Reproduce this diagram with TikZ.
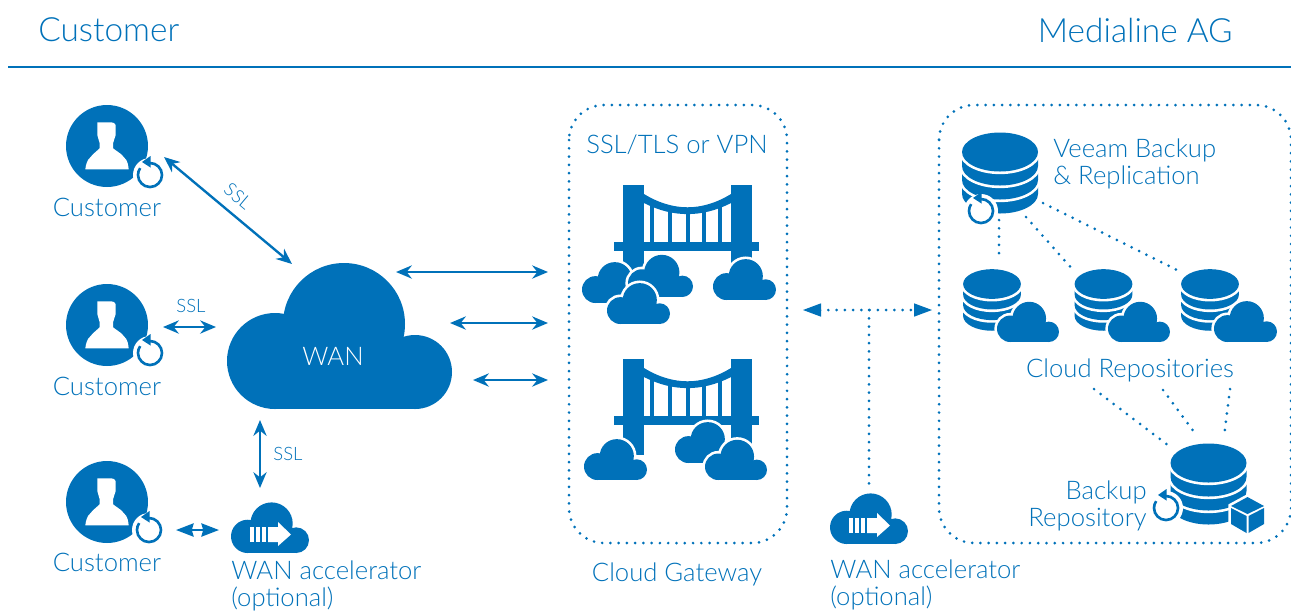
\documentclass[tikz,border=0pt]{standalone}
\usepackage{fontspec}
\setmainfont{Lato Light}
\usepackage{xcolor}
\usepackage{tikz}
\usetikzlibrary{arrows.meta, positioning, calc}
\definecolor{brandblue}{HTML}{0071B9}
\tikzset{
	biglabel/.style={text=brandblue, inner sep=0pt, font=\fontsize{19}{19}\selectfont},
	toplabel/.style={text=brandblue, inner sep=0pt, align=left, font=\fontsize{14.6}{15.4}\selectfont},
	smalllabel/.style={text=brandblue, inner sep=0pt, font=\fontsize{10.5}{11}\selectfont},
	usercircle/.style={circle, fill=brandblue, inner sep=0pt, minimum size=1.64cm},
	link/.style={brandblue, line width=1.35pt, {Stealth[length=9pt,width=7.5pt]}-{Stealth[length=9pt,width=7.5pt]}},
	shortlink/.style={brandblue, line width=1.35pt, {Stealth[length=10pt,width=7.5pt,inset=1pt]}-{Stealth[length=10pt,width=7.5pt,inset=1pt]}},
	dotline/.style={brandblue, line width=1.7pt, line cap=round, dash pattern=on 0pt off 4.7pt},
	gapped/.style={fill=brandblue, preaction={draw=white, line width=3pt}},
}
\newcommand{\mycloud}[3]{
	\begin{scope}[shift={(#1,-#2)}, scale=#3/225]
		\draw[white, line width=3pt] (48,48) circle (48) (117,85) circle (61) (188,37) circle (37) (48,0) rectangle (188,40);
		\foreach \cx/\cy/\cr in {48/48/48, 117/85/61, 188/37/37} {
			\fill[brandblue] (\cx,\cy) circle (\cr);
		}
		\fill[brandblue] (48,0) rectangle (188,40);
	\end{scope}
}
\newcommand{\myaccel}[2]{
	\mycloud{#1}{#2}{78}
	\begin{scope}[shift={(#1,-#2)}]
		\foreach \bx in {19,25,31} {
			\fill[white] (\bx,11) rectangle ++(3.6,15);
		}
		\fill[white] (37,11) -- (47,11) -- (47,7) -- (60,18.5) -- (47,31) -- (47,26) -- (37,26) -- cycle;
	\end{scope}
}
\newcommand{\myrotate}[2]{
	\begin{scope}[shift={(#1,-#2)}]
		\fill[white] (0,0) circle (17);
		\draw[brandblue, line width=1.5pt] (0,12) arc[start angle=90, end angle=-215, radius=12];
		\fill[brandblue] (-8,13) -- (0.5,19) -- (0.5,7.5) -- cycle;
	\end{scope}
}
\newcommand{\myperson}[1]{
	\begin{scope}[shift={(#1)}]
		\fill[white] (-21.7,-23.3) .. controls (-21,-18) and (-20,-16) .. (-19,-14) -- (-14,-8.3) -- (-7.3,-2.3) -- (-7.3,2.7)
			-- (-9.7,11) -- (-9.7,23.7) -- (4,23.7) .. controls (6,23.5) and (8,23) .. (8.7,21) -- (8.7,11) -- (6,2.7) -- (6,-2.3)
			-- (14.3,-8.3) -- (19.3,-14) .. controls (20.5,-16) and (21,-18) .. (21.7,-23.3) -- cycle;
	\end{scope}
}
\newcommand{\mydisk}[3]{
	\begin{scope}[shift={(#1,-#2)}, scale=#3]
		\foreach \k in {3,2,1} {
			\path[gapped] (-38,{-14*\k+7}) -- (-38,{-14*\k}) arc[start angle=180, end angle=360, x radius=38, y radius=19.5]
				-- (38,{-14*\k+7}) arc[start angle=0, end angle=180, x radius=38, y radius=19.5] -- cycle;
		}
		\path[gapped] (0,0) ellipse [x radius=38, y radius=19.5];
	\end{scope}
}
\newcommand{\mycube}[2]{
	\begin{scope}[shift={(#1,-#2)}]
		\fill[white, draw=white, line width=3pt] (0,18) -- (16.5,9) -- (16.5,-9) -- (0,-18) -- (-16.5,-9) -- (-16.5,9) -- cycle;
		\fill[brandblue] (0,18) -- (16.5,9) -- (0,1) -- (-16.5,9) -- cycle;
		\fill[brandblue] (-16.5,7) -- (-1,-1) -- (-1,-18) -- (-16.5,-9) -- cycle;
		\fill[brandblue] (16.5,7) -- (1,-1) -- (1,-18) -- (16.5,-9) -- cycle;
	\end{scope}
}
\newcommand{\mybridge}[2]{
	\begin{scope}[shift={(#1,-#2)}]
		\fill[brandblue] (0,0) rectangle (21,-96);
		\fill[brandblue] (108,0) rectangle (129,-96);
		\fill[brandblue] (-9,-57) rectangle (136,-66);
		\fill[brandblue] (21,-9) .. controls (50,-26.7) and (79,-26.7) .. (108,-9) -- (108,-18)
			.. controls (79,-32.8) and (50,-32.8) .. (21,-18) -- cycle;
		\foreach \hx/\hy in {27/-16, 45/-22, 63/-25, 79/-24, 95/-16} {
			\fill[brandblue] (\hx,\hy) rectangle ++(4.3,{-58-\hy});
		}
	\end{scope}
}
\begin{document}
\begin{tikzpicture}[x=0.02cm, y=0.02cm]
	\useasboundingbox (0,0) rectangle (1291,-610);

	% header
	\node[biglabel, anchor=west] (custhead) at (38,-30) {Customer};
	\node[biglabel, anchor=east] (medhead) at (1233,-30) {Medialine AG};
	\coordinate (rulea) at (8,-67);
	\coordinate (ruleb) at (1291,-67);
	\draw[brandblue, line width=1.6pt] (rulea) -- (ruleb);

	% dotted boxes
	\coordinate (gatea) at (569,-105);
	\coordinate (gateb) at (787,-543);
	\coordinate (mediaa) at (939,-105);
	\coordinate (mediab) at (1291,-543);
	\draw[dotline, rounded corners=0.7cm] (gatea) rectangle (gateb);
	\draw[dotline, rounded corners=0.7cm] (mediaa) rectangle (mediab);

	% customers
	\node[usercircle] (cust1) at (107,-146) {};
	\node[usercircle] (cust2) at (107,-325) {};
	\node[usercircle] (cust3) at (107,-502) {};
	\myperson{cust1}
	\myperson{cust2}
	\myperson{cust3}
	\myrotate{150}{175}
	\myrotate{150}{353}
	\myrotate{149}{530}
	\node[toplabel] (custa) at (107,-207) {Customer};
	\node[toplabel] (custb) at (107,-386) {Customer};
	\node[toplabel] (custc) at (107,-562) {Customer};

	% wan
	\mycloud{227}{409}{225}
	\node[toplabel, text=white] (wan) at (333,-356) {WAN};
	\myaccel{231}{553}
	\myaccel{830}{544}
	\node[toplabel, anchor=north west] (accela) at (231,-560) {WAN accelerator\\(optional)};
	\node[toplabel, anchor=north west] (accelb) at (830,-559) {WAN accelerator\\(optional)};

	% gateway
	\node[toplabel] (ssltls) at (677,-145) {SSL/TLS or VPN};
	\node[toplabel] (gateway) at (677,-574) {Cloud Gateway};
	\mybridge{623}{185}
	\mycloud{582}{303}{63}
	\mycloud{628}{297}{65}
	\mycloud{607}{324}{63}
	\mycloud{713}{300}{63}
	\mybridge{623}{359}
	\mycloud{584}{480}{63}
	\mycloud{675}{463}{63}
	\mycloud{705}{480}{62}

	% medialine side
	\mydisk{1000}{152}{1}
	\myrotate{981}{211}
	\node[toplabel, anchor=north west] (veeam) at (1053,-138) {Veeam Backup\\\& Replication};
	\mydisk{992}{284}{0.76}
	\mydisk{1103.5}{284}{0.76}
	\mydisk{1210}{284}{0.76}
	\mycloud{997}{342}{62}
	\mycloud{1108}{342}{62}
	\mycloud{1214}{342}{63}
	\node[toplabel] (cloudrepo) at (1130,-370) {Cloud Repositories};
	\mydisk{1208.5}{463}{1}
	\myrotate{1166}{508}
	\mycube{1247.5}{515}
	\node[toplabel, anchor=north east, align=right] (backrepo) at (1147,-480) {Backup\\Repository};

	% links
	\coordinate (l1a) at (164,-157);
	\coordinate (l1b) at (292,-264);
	\coordinate (l2a) at (163,-327);
	\coordinate (l2b) at (216,-327);
	\coordinate (l3a) at (396,-272);
	\coordinate (l3b) at (548,-272);
	\coordinate (l4a) at (450,-323);
	\coordinate (l4b) at (548,-323);
	\coordinate (l5a) at (473,-380);
	\coordinate (l5b) at (548,-380);
	\coordinate (l6a) at (260,-420);
	\coordinate (l6b) at (260,-488);
	\coordinate (l7a) at (176,-530);
	\coordinate (l7b) at (219,-530);
	\draw[link] (l1a) -- (l1b);
	\draw[link] (l2a) -- (l2b);
	\draw[link] (l3a) -- (l3b);
	\draw[link] (l4a) -- (l4b);
	\draw[link] (l5a) -- (l5b);
	\draw[link] (l6a) -- (l6b);
	\draw[shortlink] (l7a) -- (l7b);
	\node[smalllabel, rotate=-40] (ssla) at (238,-196) {SSL};
	\node[smalllabel] (sslb) at (191,-306) {SSL};
	\node[smalllabel] (sslc) at (288,-454) {SSL};

	% dotted links
	\coordinate (d1a) at (820,-310);
	\coordinate (d1b) at (917,-310);
	\coordinate (d1c) at (869,-310);
	\coordinate (d1d) at (869,-487);
	\draw[dotline] (d1a) -- (d1b);
	\draw[dotline] (d1c) -- (d1d);
	\coordinate (tipa) at (803,-310);
	\coordinate (tipb) at (932,-310);
	\fill[brandblue] (tipa) -- ++(18,6.7) -- ++(0,-13.4) -- cycle;
	\fill[brandblue] (tipb) -- ++(-18,6.7) -- ++(0,-13.4) -- cycle;
	\coordinate (d2a) at (999,-220);
	\coordinate (d2b) at (999,-260);
	\coordinate (d3a) at (1026,-217);
	\coordinate (d3b) at (1074,-271);
	\coordinate (d4a) at (1043,-203);
	\coordinate (d4b) at (1181,-272);
	\draw[dotline] (d2a) -- (d2b);
	\draw[dotline] (d3a) -- (d3b);
	\draw[dotline] (d4a) -- (d4b);
	\coordinate (d5a) at (1094,-389);
	\coordinate (d5b) at (1169,-446);
	\coordinate (d6a) at (1163,-390);
	\coordinate (d6b) at (1197,-436);
	\coordinate (d7a) at (1230,-389);
	\coordinate (d7b) at (1224,-436);
	\draw[dotline] (d5a) -- (d5b);
	\draw[dotline] (d6a) -- (d6b);
	\draw[dotline] (d7a) -- (d7b);
\end{tikzpicture}
\end{document}
